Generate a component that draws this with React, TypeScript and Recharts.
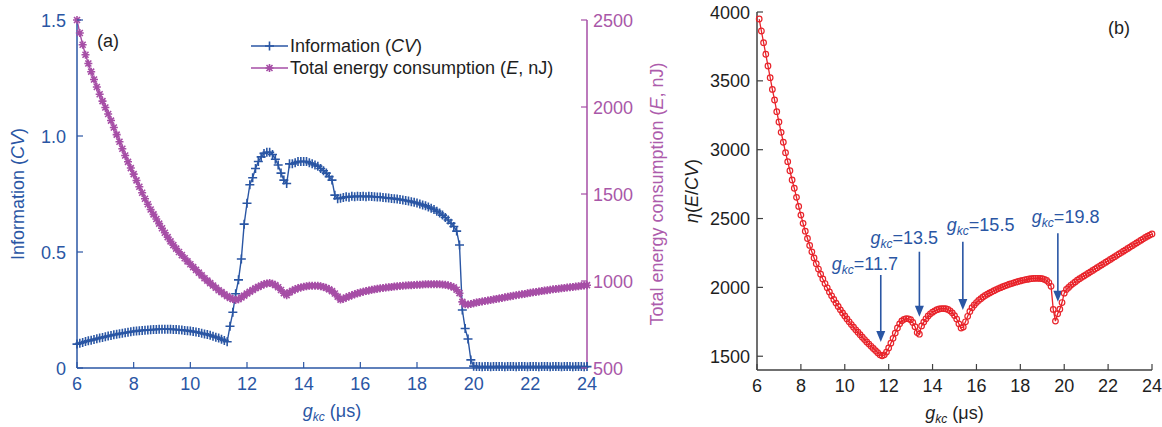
import React from "react";
import { LineChart, Line, XAxis, YAxis, Legend, ReferenceLine } from "recharts";

const FONT = '"Liberation Sans", Arial, Helvetica, sans-serif';
const BLUE = "#2a56a4";
const MAGENTA = "#a64ea6";
const RED = "#e8232a";
const DARK = "#404040";
const INK = "#1e1e1e";

// panel (a): g_kc sweep, 6.0 -> 24.0 µs
const gkcA = [
  6, 6.1, 6.2, 6.3, 6.4, 6.5, 6.6, 6.7, 6.8, 6.9,
  7, 7.1, 7.2, 7.3, 7.4, 7.5, 7.6, 7.7, 7.8, 7.9,
  8, 8.1, 8.2, 8.3, 8.4, 8.5, 8.6, 8.7, 8.8, 8.9,
  9, 9.1, 9.2, 9.3, 9.4, 9.5, 9.6, 9.7, 9.8, 9.9,
  10, 10.1, 10.2, 10.3, 10.4, 10.5, 10.6, 10.7, 10.8, 10.9,
  11, 11.1, 11.2, 11.3, 11.4, 11.5, 11.6, 11.7, 11.8, 11.9,
  12, 12.1, 12.2, 12.3, 12.4, 12.5, 12.6, 12.7, 12.8, 12.9,
  13, 13.1, 13.2, 13.3, 13.4, 13.5, 13.6, 13.7, 13.8, 13.9,
  14, 14.1, 14.2, 14.3, 14.4, 14.5, 14.6, 14.7, 14.8, 14.9,
  15, 15.1, 15.2, 15.3, 15.4, 15.5, 15.6, 15.7, 15.8, 15.9,
  16, 16.1, 16.2, 16.3, 16.4, 16.5, 16.6, 16.7, 16.8, 16.9,
  17, 17.1, 17.2, 17.3, 17.4, 17.5, 17.6, 17.7, 17.8, 17.9,
  18, 18.1, 18.2, 18.3, 18.4, 18.5, 18.6, 18.7, 18.8, 18.9,
  19, 19.1, 19.2, 19.3, 19.4, 19.5, 19.6, 19.7, 19.8, 19.9,
  20, 20.1, 20.2, 20.3, 20.4, 20.5, 20.6, 20.7, 20.8, 20.9,
  21, 21.1, 21.2, 21.3, 21.4, 21.5, 21.6, 21.7, 21.8, 21.9,
  22, 22.1, 22.2, 22.3, 22.4, 22.5, 22.6, 22.7, 22.8, 22.9,
  23, 23.1, 23.2, 23.3, 23.4, 23.5, 23.6, 23.7, 23.8, 23.9,
  24,
];

// information (CV)
const information = [
  0.103, 0.107, 0.11, 0.114, 0.117, 0.12, 0.123, 0.126, 0.129, 0.132,
  0.135, 0.138, 0.14, 0.143, 0.145, 0.148, 0.15, 0.152, 0.154, 0.156,
  0.158, 0.159, 0.161, 0.162, 0.163, 0.164, 0.165, 0.166, 0.166, 0.167,
  0.167, 0.167, 0.167, 0.167, 0.166, 0.166, 0.165, 0.164, 0.162, 0.161,
  0.159, 0.157, 0.155, 0.153, 0.15, 0.147, 0.144, 0.141, 0.137, 0.133,
  0.129, 0.124, 0.119, 0.113, 0.18, 0.24, 0.32, 0.38, 0.47, 0.62,
  0.71, 0.79, 0.82, 0.86, 0.89, 0.91, 0.925, 0.93, 0.93, 0.92,
  0.9, 0.875, 0.84, 0.81, 0.795, 0.88, 0.88, 0.885, 0.89, 0.89,
  0.89, 0.89, 0.885, 0.88, 0.875, 0.87, 0.86, 0.85, 0.84, 0.825,
  0.81, 0.745, 0.73, 0.732, 0.735, 0.738, 0.736, 0.74, 0.738, 0.74,
  0.739, 0.74, 0.738, 0.74, 0.739, 0.738, 0.737, 0.737, 0.735, 0.734,
  0.733, 0.731, 0.73, 0.728, 0.726, 0.724, 0.722, 0.72, 0.717, 0.714,
  0.711, 0.707, 0.703, 0.699, 0.694, 0.689, 0.683, 0.676, 0.668, 0.659,
  0.649, 0.638, 0.624, 0.61, 0.59, 0.53, 0.25, 0.17, 0.125, 0.035,
  0.008, 0.006, 0.006, 0.005, 0.006, 0.006, 0.005, 0.006, 0.006, 0.006,
  0.006, 0.005, 0.006, 0.006, 0.006, 0.005, 0.006, 0.006, 0.006, 0.005,
  0.006, 0.006, 0.006, 0.005, 0.006, 0.006, 0.006, 0.005, 0.006, 0.006,
  0.006, 0.005, 0.006, 0.006, 0.006, 0.005, 0.006, 0.006, 0.006, 0.005,
  0.006,
];

// total energy consumption (E, nJ)
const energy = [
  2500, 2425, 2358, 2300, 2250, 2203, 2158, 2115, 2073, 2034,
  1997, 1960, 1922, 1882, 1841, 1800, 1760, 1721, 1685, 1649,
  1614, 1578, 1542, 1507, 1473, 1441, 1411, 1383, 1356, 1330,
  1303, 1277, 1252, 1228, 1206, 1186, 1167, 1149, 1131, 1113,
  1096, 1080, 1064, 1048, 1032, 1016, 1002, 988, 974, 961,
  947, 936, 924, 913, 903, 896, 891, 895, 905, 916,
  928, 938, 948, 958, 966, 974, 981, 986, 988, 984,
  976, 964, 948, 930, 918, 935, 944, 952, 958, 963,
  967, 970, 972, 973, 973, 972, 970, 966, 960, 952,
  942, 928, 910, 893, 898, 905, 912, 918, 924, 929,
  934, 938, 942, 946, 949, 952, 955, 958, 960, 962,
  964, 966, 968, 970, 971, 973, 974, 975, 976, 977,
  978, 979, 980, 981, 981, 982, 982, 982, 981, 980,
  978, 975, 970, 963, 950, 930, 880, 866, 865, 868,
  872, 876, 879, 882, 885, 888, 891, 894, 897, 900,
  903, 906, 909, 912, 915, 918, 921, 924, 926, 929,
  932, 935, 937, 940, 942, 945, 947, 950, 952, 954,
  956, 958, 960, 962, 964, 966, 968, 970, 972, 974,
  976,
];

// panel (b): g_kc sweep, 6.1 -> 24.0 µs
const gkcB = [
  6.1, 6.2, 6.3, 6.4, 6.5, 6.6, 6.7, 6.8, 6.9,
  7, 7.1, 7.2, 7.3, 7.4, 7.5, 7.6, 7.7, 7.8, 7.9,
  8, 8.1, 8.2, 8.3, 8.4, 8.5, 8.6, 8.7, 8.8, 8.9,
  9, 9.1, 9.2, 9.3, 9.4, 9.5, 9.6, 9.7, 9.8, 9.9,
  10, 10.1, 10.2, 10.3, 10.4, 10.5, 10.6, 10.7, 10.8, 10.9,
  11, 11.1, 11.2, 11.3, 11.4, 11.5, 11.6, 11.7, 11.8, 11.9,
  12, 12.1, 12.2, 12.3, 12.4, 12.5, 12.6, 12.7, 12.8, 12.9,
  13, 13.1, 13.2, 13.3, 13.4, 13.5, 13.6, 13.7, 13.8, 13.9,
  14, 14.1, 14.2, 14.3, 14.4, 14.5, 14.6, 14.7, 14.8, 14.9,
  15, 15.1, 15.2, 15.3, 15.4, 15.5, 15.6, 15.7, 15.8, 15.9,
  16, 16.1, 16.2, 16.3, 16.4, 16.5, 16.6, 16.7, 16.8, 16.9,
  17, 17.1, 17.2, 17.3, 17.4, 17.5, 17.6, 17.7, 17.8, 17.9,
  18, 18.1, 18.2, 18.3, 18.4, 18.5, 18.6, 18.7, 18.8, 18.9,
  19, 19.1, 19.2, 19.3, 19.4, 19.5, 19.6, 19.7, 19.8, 19.9,
  20, 20.1, 20.2, 20.3, 20.4, 20.5, 20.6, 20.7, 20.8, 20.9,
  21, 21.1, 21.2, 21.3, 21.4, 21.5, 21.6, 21.7, 21.8, 21.9,
  22, 22.1, 22.2, 22.3, 22.4, 22.5, 22.6, 22.7, 22.8, 22.9,
  23, 23.1, 23.2, 23.3, 23.4, 23.5, 23.6, 23.7, 23.8, 23.9,
  24,
];

// η(E/CV)
const eta = [
  3949, 3862, 3777, 3693, 3608, 3523, 3438, 3361, 3276,
  3201, 3126, 3054, 2978, 2913, 2847, 2780, 2720, 2654, 2588,
  2525, 2465, 2408, 2355, 2305, 2258, 2214, 2172, 2133, 2096,
  2061, 2028, 1997, 1967, 1939, 1912, 1886, 1861, 1837, 1814,
  1792, 1771, 1750, 1730, 1711, 1692, 1674, 1656, 1638, 1621,
  1604, 1588, 1572, 1556, 1541, 1526, 1510, 1503, 1510, 1530,
  1560, 1595, 1630, 1668, 1705, 1735, 1757, 1768, 1773, 1772,
  1765, 1745, 1715, 1672, 1660, 1720, 1748, 1772, 1792, 1808,
  1820, 1830, 1838, 1843, 1846, 1846, 1845, 1840, 1830, 1815,
  1795, 1770, 1735, 1705, 1712, 1750, 1790, 1825, 1852, 1872,
  1890, 1905, 1918, 1930, 1941, 1951, 1960, 1968, 1976, 1984,
  1991, 1998, 2005, 2011, 2017, 2023, 2028, 2033, 2038, 2043,
  2047, 2051, 2055, 2058, 2061, 2063, 2065, 2066, 2066, 2065,
  2063, 2058, 2050, 2035, 2008, 1840, 1755, 1808, 1842, 1890,
  1958, 1985, 2000, 2015, 2028, 2040, 2052, 2063, 2073, 2083,
  2093, 2103, 2113, 2123, 2133, 2143, 2153, 2163, 2173, 2183,
  2193, 2203, 2213, 2223, 2233, 2243, 2253, 2263, 2273, 2283,
  2293, 2303, 2313, 2323, 2333, 2343, 2353, 2363, 2372, 2380,
  2388,
];

const xTicks = [6, 8, 10, 12, 14, 16, 18, 20, 22, 24];
const cvTicks = [0, 0.5, 1, 1.5];
const energyTicks = [500, 1000, 1500, 2000, 2500];
const etaTicks = [1500, 2000, 2500, 3000, 3500, 4000];

// arrows in panel (b)
const arrowAt = [11.64, 13.4, 15.38, 19.71];
const arrowFrom = [2090, 2259, 2332, 2393];
const arrowTo = [1603, 1787, 1836, 1896];
const arrowText = ["11.7", "13.5", "15.5", "19.8"];
// where each label sits relative to the arrow tail (px)
const arrowTextShift = [[-49, -5], [-49, -8], [-16, -11], [-26, -10]];

const rowsA = gkcA.map((g, i) => ({ g, cv: information[i], e: energy[i] }));
const rowsB = gkcB.map((g, i) => ({ g, eta: eta[i] }));

const cvFmt = (v: number) => (v === 0 ? "0" : v.toFixed(1));

const bottomTick = (color: string, textColor: string) => (p: any) => (
  <g>
    <line x1={p.x} x2={p.x} y1={p.y} y2={p.y - 6} stroke={color} strokeWidth={1.2} />
    <text x={p.x} y={p.y + 22} textAnchor="middle" fill={textColor} fontSize={18} fontFamily={FONT}>
      {p.payload.value}
    </text>
  </g>
);

const topTick = (color: string) => (p: any) => (
  <line x1={p.x} x2={p.x} y1={p.y} y2={p.y + 6} stroke={color} strokeWidth={1.2} />
);

const leftTick = (color: string, textColor: string, gap: number, fmt = (v: number) => String(v)) => (p: any) => (
  <g>
    <line x1={p.x} x2={p.x + 6} y1={p.y} y2={p.y} stroke={color} strokeWidth={1.2} />
    <text x={p.x - gap} y={p.y + 6.5} textAnchor="end" fill={textColor} fontSize={18} fontFamily={FONT}>
      {fmt(p.payload.value)}
    </text>
  </g>
);

const rightTick = (color: string, textColor?: string) => (p: any) => (
  <g>
    <line x1={p.x} x2={p.x - 6} y1={p.y} y2={p.y} stroke={color} strokeWidth={1.2} />
    {textColor && (
      <text x={p.x + 6} y={p.y + 6.5} textAnchor="start" fill={textColor} fontSize={18} fontFamily={FONT}>
        {p.payload.value}
      </text>
    )}
  </g>
);

const plusMark = (x: number, y: number, key?: string) => (
  <path key={key} d={`M${x - 4.5},${y}H${x + 4.5}M${x},${y - 4.5}V${y + 4.5}`} stroke={BLUE} strokeWidth={1.6} fill="none" />
);

const starMark = (x: number, y: number, key?: string) => (
  <path
    key={key}
    d={`M${x - 4},${y}H${x + 4}M${x},${y - 4}V${y + 4}M${x - 3},${y - 3}L${x + 3},${y + 3}M${x - 3},${y + 3}L${x + 3},${y - 3}`}
    stroke={MAGENTA}
    strokeWidth={1.6}
    fill="none"
  />
);

const rotatedTitle = (cx: number, color: string, parts: React.ReactNode) => (props: any) => {
  const vb = props.viewBox || {};
  const cy = vb.y + vb.height / 2;
  return (
    <text
      x={cx}
      y={cy}
      transform={`rotate(-90 ${cx} ${cy})`}
      textAnchor="middle"
      dominantBaseline="central"
      fill={color}
      fontSize={18}
      fontFamily={FONT}
    >
      {parts}
    </text>
  );
};

const gkcTitle = (color: string) => (props: any) => {
  const vb = props.viewBox || {};
  return (
    <text x={vb.x + vb.width / 2} y={vb.y + 49} textAnchor="middle" fill={color} fontSize={18} fontFamily={FONT}>
      <tspan fontStyle="italic">g</tspan>
      <tspan fontStyle="italic" fontSize={12} dy={4}>kc</tspan>
      <tspan dy={-4}> (μs)</tspan>
    </text>
  );
};

const legendText: Record<string, React.ReactNode> = {
  cv: <>Information (<i>CV</i>)</>,
  e: <>Total energy consumption (<i>E</i>, nJ)</>,
};

const renderLegend = (props: any) => (
  <div style={{ fontFamily: FONT, fontSize: 18, color: INK }}>
    {(props.payload || []).map((item: any) => (
      <div key={item.dataKey} style={{ display: "flex", alignItems: "center", height: 22 }}>
        <svg width={37} height={12} style={{ marginRight: 2 }}>
          <line x1={0} x2={37} y1={6} y2={6} stroke={item.color} strokeWidth={1.5} />
          {item.dataKey === "cv" ? plusMark(18.5, 6) : starMark(18.5, 6)}
        </svg>
        <span>{legendText[item.dataKey]}</span>
      </div>
    ))}
  </div>
);

const arrowShape = (i: number) => (p: any) => {
  const x = p.x1;
  const top = Math.min(p.y1, p.y2);
  const tip = Math.max(p.y1, p.y2);
  const [dx, dy] = arrowTextShift[i];
  return (
    <g>
      <line x1={x} x2={x} y1={top} y2={tip - 9} stroke={BLUE} strokeWidth={1.6} />
      <polygon points={`${x - 4.5},${tip - 11} ${x + 4.5},${tip - 11} ${x},${tip}`} fill={BLUE} />
      <text x={x + dx} y={top + dy} fill={BLUE} fontSize={18} fontFamily={FONT}>
        <tspan fontStyle="italic">g</tspan>
        <tspan fontStyle="italic" fontSize={12} dy={4}>kc</tspan>
        <tspan dy={-4}>={arrowText[i]}</tspan>
      </text>
    </g>
  );
};

export default function App() {
  return (
    <div style={{ position: "absolute", left: 0, top: 0, width: 1162, height: 427, background: "#fff" }}>
      <div style={{ position: "absolute", left: 0, top: 0 }}>
        <LineChart width={680} height={427} data={rowsA} margin={{ top: 20, right: 0, bottom: 0, left: 0 }}>
          <XAxis
            dataKey="g"
            type="number"
            domain={[6, 24]}
            ticks={xTicks}
            interval={0}
            height={59}
            tickSize={0}
            tickMargin={0}
            tickLine={false}
            axisLine={{ stroke: BLUE, strokeWidth: 1.5 }}
            tick={bottomTick(BLUE, BLUE)}
            label={gkcTitle(BLUE)}
          />
          <XAxis
            xAxisId="top"
            orientation="top"
            type="number"
            domain={[6, 24]}
            ticks={xTicks}
            interval={0}
            height={0}
            tickSize={0}
            tickMargin={0}
            tickLine={false}
            axisLine={{ stroke: BLUE, strokeWidth: 1.5 }}
            tick={topTick(BLUE)}
          />
          <YAxis
            yAxisId="cv"
            domain={[0, 1.5]}
            ticks={cvTicks}
            interval={0}
            width={77}
            tickSize={0}
            tickMargin={0}
            tickLine={false}
            axisLine={{ stroke: BLUE, strokeWidth: 1.5 }}
            tick={leftTick(BLUE, BLUE, 11, cvFmt)}
            label={rotatedTitle(18, BLUE, <>Information (<tspan fontStyle="italic">CV</tspan>)</>)}
          />
          <YAxis
            yAxisId="e"
            orientation="right"
            domain={[500, 2500]}
            ticks={energyTicks}
            interval={0}
            width={93}
            tickSize={0}
            tickMargin={0}
            tickLine={false}
            axisLine={{ stroke: MAGENTA, strokeWidth: 1.5 }}
            tick={rightTick(MAGENTA, "#a957a8")}
            label={rotatedTitle(657, "#ad5cac", <>Total energy consumption (<tspan fontStyle="italic">E</tspan>, nJ)</>)}
          />
          <Legend
            layout="vertical"
            align="center"
            verticalAlign="middle"
            content={renderLegend}
            wrapperStyle={{ left: 251, top: 35, width: 330 }}
          />
          <Line
            yAxisId="cv"
            dataKey="cv"
            name="Information (CV)"
            type="linear"
            stroke={BLUE}
            strokeWidth={1.4}
            dot={(p: any) => plusMark(p.cx, p.cy, `cv-${p.index}`)}
            activeDot={false}
            isAnimationActive={false}
          />
          <Line
            yAxisId="e"
            dataKey="e"
            name="Total energy consumption (E, nJ)"
            type="linear"
            stroke={MAGENTA}
            strokeWidth={1.4}
            dot={(p: any) => starMark(p.cx, p.cy, `e-${p.index}`)}
            activeDot={false}
            isAnimationActive={false}
          />
          <text x={97} y={47} fill={INK} fontSize={18} fontFamily={FONT}>(a)</text>
        </LineChart>
      </div>

      <div style={{ position: "absolute", left: 680, top: 0 }}>
        <LineChart width={482} height={427} data={rowsB} margin={{ top: 12, right: 10, bottom: 0, left: 0 }}>
          <XAxis
            dataKey="g"
            type="number"
            domain={[6, 24]}
            ticks={xTicks}
            interval={0}
            height={57}
            tickSize={0}
            tickMargin={0}
            tickLine={false}
            axisLine={{ stroke: DARK, strokeWidth: 1.5 }}
            tick={bottomTick(DARK, INK)}
            label={gkcTitle(INK)}
          />
          <XAxis
            xAxisId="top"
            orientation="top"
            type="number"
            domain={[6, 24]}
            ticks={xTicks}
            interval={0}
            height={0}
            tickSize={0}
            tickMargin={0}
            tickLine={false}
            axisLine={{ stroke: DARK, strokeWidth: 1.5 }}
            tick={topTick(DARK)}
          />
          <YAxis
            domain={[1400, 4000]}
            ticks={etaTicks}
            interval={0}
            width={77}
            tickSize={0}
            tickMargin={0}
            tickLine={false}
            axisLine={{ stroke: DARK, strokeWidth: 1.5 }}
            tick={leftTick(DARK, INK, 7)}
            label={rotatedTitle(12, INK, <><tspan fontStyle="italic">η</tspan>(<tspan fontStyle="italic">E</tspan>/<tspan fontStyle="italic">CV</tspan>)</>)}
          />
          <YAxis
            yAxisId="r"
            orientation="right"
            domain={[1400, 4000]}
            ticks={etaTicks}
            interval={0}
            width={0}
            tickSize={0}
            tickMargin={0}
            tickLine={false}
            axisLine={{ stroke: DARK, strokeWidth: 1.5 }}
            tick={rightTick(DARK)}
          />
          <Line
            dataKey="eta"
            type="linear"
            stroke={RED}
            strokeWidth={1.3}
            dot={{ r: 2.8, stroke: RED, strokeWidth: 1.2, fill: "none" }}
            activeDot={false}
            isAnimationActive={false}
          />
          {arrowAt.map((g, i) => (
            <ReferenceLine
              key={arrowText[i]}
              segment={[{ x: g, y: arrowFrom[i] }, { x: g, y: arrowTo[i] }]}
              ifOverflow="visible"
              shape={arrowShape(i)}
            />
          ))}
          <text x={428} y={34} fill={INK} fontSize={18} fontFamily={FONT}>(b)</text>
        </LineChart>
      </div>
    </div>
  );
}
